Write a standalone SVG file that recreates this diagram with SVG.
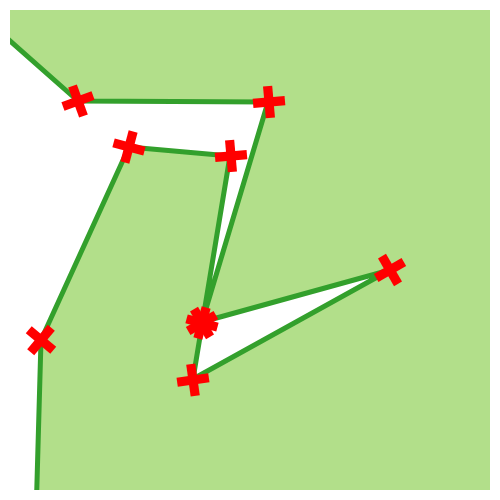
<svg xmlns="http://www.w3.org/2000/svg" width="500" height="500" viewBox="0 0 500 500">
<defs>
<clipPath id="plot"><rect x="10" y="10" width="480" height="480"/></clipPath>
<g id="cross"><rect x="-16" y="-4.6" width="32" height="9.2" fill="#ff0000"/><rect x="-4.6" y="-16" width="9.2" height="32" fill="#ff0000"/></g>
</defs>
<style>.edge{fill:none;stroke:#33a02c;stroke-width:5;stroke-linejoin:round}</style>
<rect x="10" y="10" width="480" height="480" fill="#b2df8a"/>
<g clip-path="url(#plot)">
<path d="M10,41 L78,101 L268,102 L202,322 L390,270 L193,379 L230,156 L129,147 L41,340 L37,490 L10,490 Z" fill="#ffffff" fill-rule="evenodd"/>
<g id="connectors">
<polyline class="edge" points="0,32 78,101 268,102 202,322 390,270 193,379 230,156 129,147 41,340 36.5,500"/>
</g>
</g>
<g id="n1"><use href="#cross" transform="translate(78,101) rotate(-20)"/></g>
<g id="n2"><use href="#cross" transform="translate(269,102) rotate(-5)"/></g>
<g id="n3"><use href="#cross" transform="translate(129,147) rotate(15)"/></g>
<g id="n4"><use href="#cross" transform="translate(231,156) rotate(-5)"/></g>
<g id="n5"><use href="#cross" transform="translate(202,323) rotate(15)"/><use href="#cross" transform="translate(202,323) rotate(60)"/><circle cx="202" cy="323" r="11" fill="#ff0000"/></g>
<g id="n6"><use href="#cross" transform="translate(390,270) rotate(-30)"/></g>
<g id="n7"><use href="#cross" transform="translate(41,340) rotate(40)"/></g>
<g id="n8"><use href="#cross" transform="translate(193,380) rotate(-8)"/></g>
</svg>
